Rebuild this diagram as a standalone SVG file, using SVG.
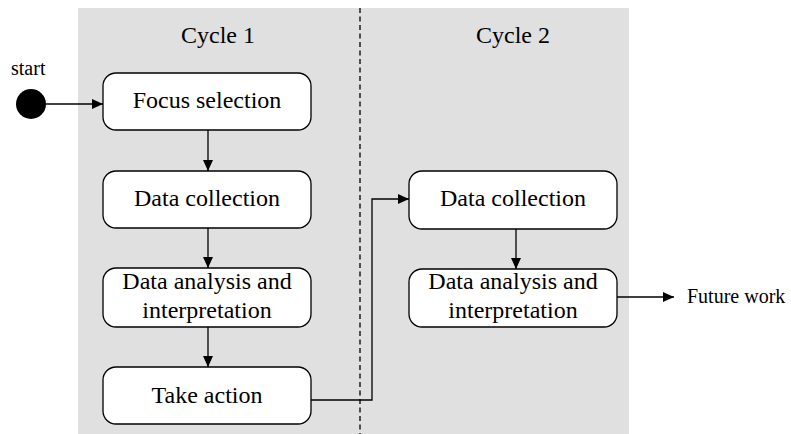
<svg xmlns="http://www.w3.org/2000/svg" width="791" height="434" viewBox="0 0 791 434">
<style>
.box rect{fill:#fff;stroke:#000;stroke-width:1.3}
text{font-family:"Liberation Serif","Times New Roman",serif;fill:#000}
.t{font-size:24px;text-anchor:middle}
.s{font-size:20px}
.c{fill:none;stroke:#000;stroke-width:1.3}
</style>
<defs>
<marker id="ah" markerUnits="userSpaceOnUse" markerWidth="12" markerHeight="10" refX="11" refY="5" orient="auto">
<path d="M0,0 L11,5 L0,10 Z" fill="#000"/>
</marker>
</defs>
<rect x="78" y="8" width="551" height="426" fill="#e0e0e0"/>
<line x1="360" y1="8" x2="360" y2="434" stroke="#000" stroke-width="1.3" stroke-dasharray="5,3.5"/>
<text class="t" x="218" y="43">Cycle 1</text>
<text class="t" x="513" y="43">Cycle 2</text>
<g id="start">
<circle cx="31" cy="104" r="15" fill="#000"/>
<text class="s" x="11" y="75">start</text>
</g>
<g id="focus" class="box"><rect x="103" y="73" width="208" height="57" rx="13"/><text class="t" x="207" y="108">Focus selection</text></g>
<g id="dc1" class="box"><rect x="103" y="171" width="208" height="57" rx="13"/><text class="t" x="207" y="206">Data collection</text></g>
<g id="da1" class="box"><rect x="103" y="268" width="208" height="59" rx="13"/><text class="t" x="207" y="289">Data analysis and</text><text class="t" x="207" y="318">interpretation</text></g>
<g id="ta" class="box"><rect x="103" y="367" width="208" height="57" rx="13"/><text class="t" x="207" y="403">Take action</text></g>
<g id="dc2" class="box"><rect x="409" y="171" width="208" height="58" rx="13"/><text class="t" x="513" y="206">Data collection</text></g>
<g id="da2" class="box"><rect x="409" y="269" width="208" height="58" rx="13"/><text class="t" x="513" y="289">Data analysis and</text><text class="t" x="513" y="318">interpretation</text></g>
<g id="future"><text class="s" x="687" y="303">Future work</text></g>
<g id="connectors">
<path class="c" d="M46,104 H103" marker-end="url(#ah)"/>
<path class="c" d="M208,130 V171" marker-end="url(#ah)"/>
<path class="c" d="M208,228 V268" marker-end="url(#ah)"/>
<path class="c" d="M208,327 V367" marker-end="url(#ah)"/>
<path class="c" d="M311,400 H372 V199 H409" marker-end="url(#ah)"/>
<path class="c" d="M516,229 V269" marker-end="url(#ah)"/>
<path class="c" d="M617,297 H674" marker-end="url(#ah)"/>
</g>
</svg>
